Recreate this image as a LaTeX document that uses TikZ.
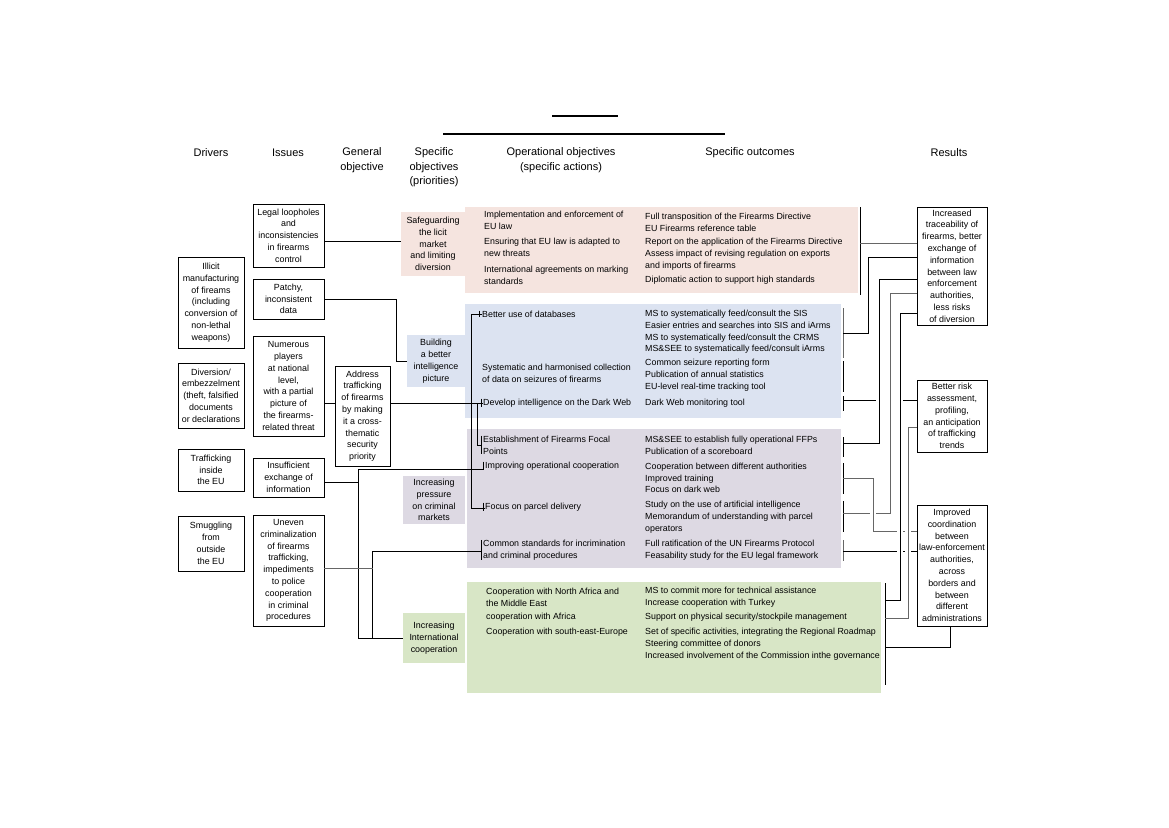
\documentclass[tikz,border=0pt]{standalone}
\usepackage{fontspec}
\setmainfont{Liberation Sans}
\definecolor{pinkc}{HTML}{F5E4DF}
\definecolor{bluec}{HTML}{DCE3F1}
\definecolor{purpc}{HTML}{DDD9E3}
\definecolor{greenc}{HTML}{D8E6C6}
\definecolor{lgray}{HTML}{666666}
\begin{document}
\begin{tikzpicture}[x=1pt,y=-1pt,
  hdr/.style={font=\fontsize{11}{14.5}\selectfont, align=center, inner sep=0pt},
  txt/.style={font=\fontsize{8.85}{11.8}\selectfont, align=left, anchor=west, inner sep=0pt},
  bx/.style={draw, line width=0.9pt, font=\fontsize{8.9}{11.8}\selectfont, align=center, inner sep=0pt},
  sobj/.style={font=\fontsize{8.9}{11.8}\selectfont, align=center, inner sep=0pt},
  ln/.style={line width=0.9pt},
  gln/.style={line width=0.9pt, draw=lgray}]
\useasboundingbox (0,0) rectangle (1169,827);
% title rules
\draw[line width=1.3pt] (552,116) -- (618,116);
\draw[line width=1.3pt] (443,134) -- (725,134);
% headers
\node[hdr] (h1) at (211,153) {Drivers};
\node[hdr] (h2) at (288,153) {Issues};
\node[hdr] (h3) at (362,160) {General\\objective};
\node[hdr] (h4) at (434,167.5) {Specific\\objectives\\(priorities)};
\node[hdr] (h5) at (561,160) {Operational objectives\\(specific actions)};
\node[hdr] (h6) at (750,153) {Specific outcomes};
\node[hdr] (h7) at (949,153) {Results};
% colored areas
\fill[pinkc] (465,207) rectangle (858,293);
\fill[bluec] (465,304) rectangle (841,418);
\fill[purpc] (467,429) rectangle (841,568);
\fill[greenc] (467,582) rectangle (881,693);
\node[sobj, fill=pinkc, minimum width=64, minimum height=64] (s1) at (433,244) {Safeguarding\\the licit\\market\\and limiting\\diversion};
\node[sobj, fill=bluec, minimum width=58, minimum height=52] (s2) at (436,361) {Building\\a better\\intelligence\\picture};
\node[sobj, fill=purpc, minimum width=62, minimum height=48] (s3) at (434,500) {Increasing\\pressure\\on criminal\\markets};
\node[sobj, fill=greenc, minimum width=62, minimum height=50] (s4) at (434,638) {Increasing\\International\\cooperation};
% drivers
\node[bx, minimum width=66, minimum height=91] (d1) at (211,302.5) {Illicit\\manufacturing\\of fireams\\(including\\conversion of\\non-lethal\\weapons)};
\node[bx, minimum width=66, minimum height=65] (d2) at (211,395.5) {Diversion/\\embezzelment\\(theft, falsified\\documents\\or declarations};
\node[bx, minimum width=66, minimum height=42] (d3) at (211,470) {Trafficking\\inside\\the EU};
\node[bx, minimum width=66, minimum height=55] (d4) at (211,543.5) {Smuggling\\from\\outside\\the EU};
% issues
\node[bx, minimum width=71, minimum height=63] (i1) at (288.5,235.5) {Legal loopholes\\and\\inconsistencies\\in firearms\\control};
\node[bx, minimum width=71, minimum height=40] (i2) at (288.5,299) {Patchy,\\inconsistent\\data};
\node[bx, minimum width=71, minimum height=100] (i3) at (288.5,386) {Numerous\\players\\at national\\level,\\with a partial\\picture of\\the firearms-\\related threat};
\node[bx, minimum width=71, minimum height=39] (i4) at (288.5,477.5) {Insufficient\\exchange of\\information};
\node[bx, minimum width=71, minimum height=111] (i5) at (288.5,570.5) {Uneven\\criminalization\\of firearms\\trafficking,\\impediments\\to police\\cooperation\\in criminal\\procedures};
% general objective
\node[bx, minimum width=55, minimum height=100] (g) at (362.5,416) {Address\\trafficking\\of firearms\\by making\\it a cross-\\thematic\\security\\priority};
% results
\node[bx, minimum width=70, minimum height=118] (r1) at (952,266) {Increased\\traceability of\\firearms, better\\exchange of\\information\\between law\\enforcement\\authorities,\\less risks\\of diversion};
\node[bx, minimum width=70, minimum height=72] (r2) at (952,416) {Better risk\\assessment,\\profiling,\\an anticipation\\of trafficking\\trends};
\node[bx, minimum width=70, minimum height=121] (r3) at (952,565.5) {Improved\\coordination\\between\\law-enforcement\\authorities,\\across\\borders and\\between\\different\\administrations};
% operational objectives
\node[txt] (o1) at (484,220.5) {Implementation and enforcement of\\EU law};
\node[txt] (o2) at (484,247.5) {Ensuring that EU law is adapted to\\new threats};
\node[txt] (o3) at (484,275) {International agreements on marking\\standards};
\node[txt] (o4) at (482,314) {Better use of databases};
\node[txt] (o5) at (482,373) {Systematic and harmonised collection\\of data on seizures of firearms};
\node[txt] (o6) at (483,403) {Develop intelligence on the Dark Web};
\node[txt] (o7) at (483,445) {Establishment of Firearms Focal\\Points};
\node[txt] (o8) at (485,466) {Improving operational cooperation};
\node[txt] (o9) at (485,507) {Focus on parcel delivery};
\node[txt] (o10) at (483,550) {Common standards for incrimination\\and criminal procedures};
\node[txt] (o11) at (486,597) {Cooperation with North Africa and\\the Middle East};
\node[txt] (o12) at (486,617) {cooperation with Africa};
\node[txt] (o13) at (486,632) {Cooperation with south-east-Europe};
% outcomes
\node[txt] (u1) at (645,222) {Full transposition of the Firearms Directive\\EU Firearms reference table};
\node[txt] (u2) at (645,254) {Report on the application of the Firearms Directive\\Assess impact of revising regulation on exports\\and imports of firearms};
\node[txt] (u3) at (645,280) {Diplomatic action to support high standards};
\node[txt] (u4) at (645,332) {MS to systematically feed/consult the SIS\\Easier entries and searches into SIS and iArms\\MS to systematically feed/consult the CRMS\\MS\&SEE to systematically feed/consult iArms};
\node[txt] (u5) at (645,375.5) {Common seizure reporting form\\Publication of annual statistics\\EU-level real-time tracking tool};
\node[txt] (u6) at (645,403) {Dark Web monitoring tool};
\node[txt] (u7) at (645,445) {MS\&SEE to establish fully operational FFPs\\Publication of a scoreboard};
\node[txt] (u8) at (645,478) {Cooperation between different authorities\\Improved training\\Focus on dark web};
\node[txt] (u9) at (645,517) {Study on the use of artificial intelligence\\Memorandum of understanding with parcel\\operators};
\node[txt] (u10) at (645,550) {Full ratification of the UN Firearms Protocol\\Feasability study for the EU legal framework};
\node[txt] (u11) at (645,597) {MS to commit more for technical assistance\\Increase cooperation with Turkey};
\node[txt] (u12) at (645,617) {Support on physical security/stockpile management};
\node[txt] (u13) at (645,644) {Set of specific activities, integrating the Regional Roadmap\\Steering committee of donors\\Increased involvement of the Commission inthe governance};
% ---- left connectors
\coordinate (c1) at ([yshift=-5.5pt]i1.east);
\draw[ln] (c1) -- (c1 -| s1.west);
\draw[ln] (i2.east) -- ++(72,0) |- (s2.west);
\coordinate (c3) at ([yshift=-17pt]i3.east);
\draw[ln] (c3) -- (c3 -| g.west);
\coordinate (c4) at ([yshift=13pt]g.east);
\draw[ln] (c4) -- (c4 -| o6.west);
\draw[ln] ([xshift=-2pt]o6.north west) -- ([xshift=-2pt]o6.south west);
% tree
\coordinate (t1) at (471,314);
\coordinate (t2) at (471,508);
\draw[ln] (t1) -- (t1 -| o4.west) (t1) -- (t2) -- (t2 -| o9.west);
\draw[ln] ([xshift=-3pt]o4.north west) -- ([xshift=-3pt]o4.south west);
\draw[ln] ([xshift=-2pt]o9.north west) -- ([xshift=-2pt]o9.south west);
\coordinate (t3) at (477,403);
\draw[ln] (t3) |- ([xshift=-2pt]o7.west);
\draw[ln] ([xshift=-2pt]o7.north west) -- ([xshift=-2pt]o7.south west);
\draw[ln] ([xshift=-2pt]o8.north west) -- ([xshift=-2pt]o8.south west);
\draw[ln] ([xshift=-2pt]o10.north west) -- ([xshift=-2pt]o10.south west);
% big verticals
\coordinate (v1) at (358,469);
\coordinate (v2) at (358,638);
\draw[ln] (i4.east |- 0,482) -- (358,482);
\draw[ln] (v1) -- ([xshift=-2pt]o8.west |- v1) (v1) -- (v2) -- (v2 -| s4.west);
\coordinate (w1) at (372,551);
\coordinate (w2) at (372,638);
\draw[ln] (w1) -- ([xshift=-2pt]o10.west |- w1) (w1) -- (w2);
\draw[gln] (i5.east |- 0,568) -- (373,568);
% ---- right side brackets
\draw[ln] (860,207) -- (860,295);
\draw[gln] (843,308) -- (843,358);
\draw[ln] (843,361) -- (843,392);
\draw[ln] (843,396) -- (843,411);
\draw[ln] (843,437) -- (843,457);
\draw[ln] (843,463) -- (843,494);
\draw[ln] (843,501) -- (843,532);
\draw[gln] (843,540) -- (843,561);
\draw[ln] (885,583) -- (885,685);
% right connectors
\draw[gln] (860,243) -- (r1.west |- 0,243);
\draw[ln] (843,333) -- (868,333) -- (868,257) -- (r1.west |- 0,257);
\draw[ln] (843,443) -- (879,443) -- (879,279) -- (r1.west |- 0,279);
\draw[gln] (843,513) -- (870,513) (876,513) -- (890,513) -- (890,293) -- (r1.west |- 0,293);
\draw[ln] (885,600) -- (900,600) -- (900,313) -- (r1.west |- 0,313);
\draw[ln] (843,400) -- (876,400) (903,400) -- (r2.west |- 0,400);
\draw[gln] (885,618) -- (908,618) -- (908,427) -- (r2.west |- 0,427);
\draw[gln] (843,478) -- (873,478) -- (873,531) -- (897,531) (903,531) -- (905,531) (911,531) -- (r3.west |- 0,531);
\draw[ln] (843,551) -- (897,551) (903,551) -- (905,551) (911,551) -- (r3.west |- 0,551);
\draw[ln] (885,647) -- (950,647) -- (950,626.5);
\end{tikzpicture}
\end{document}
